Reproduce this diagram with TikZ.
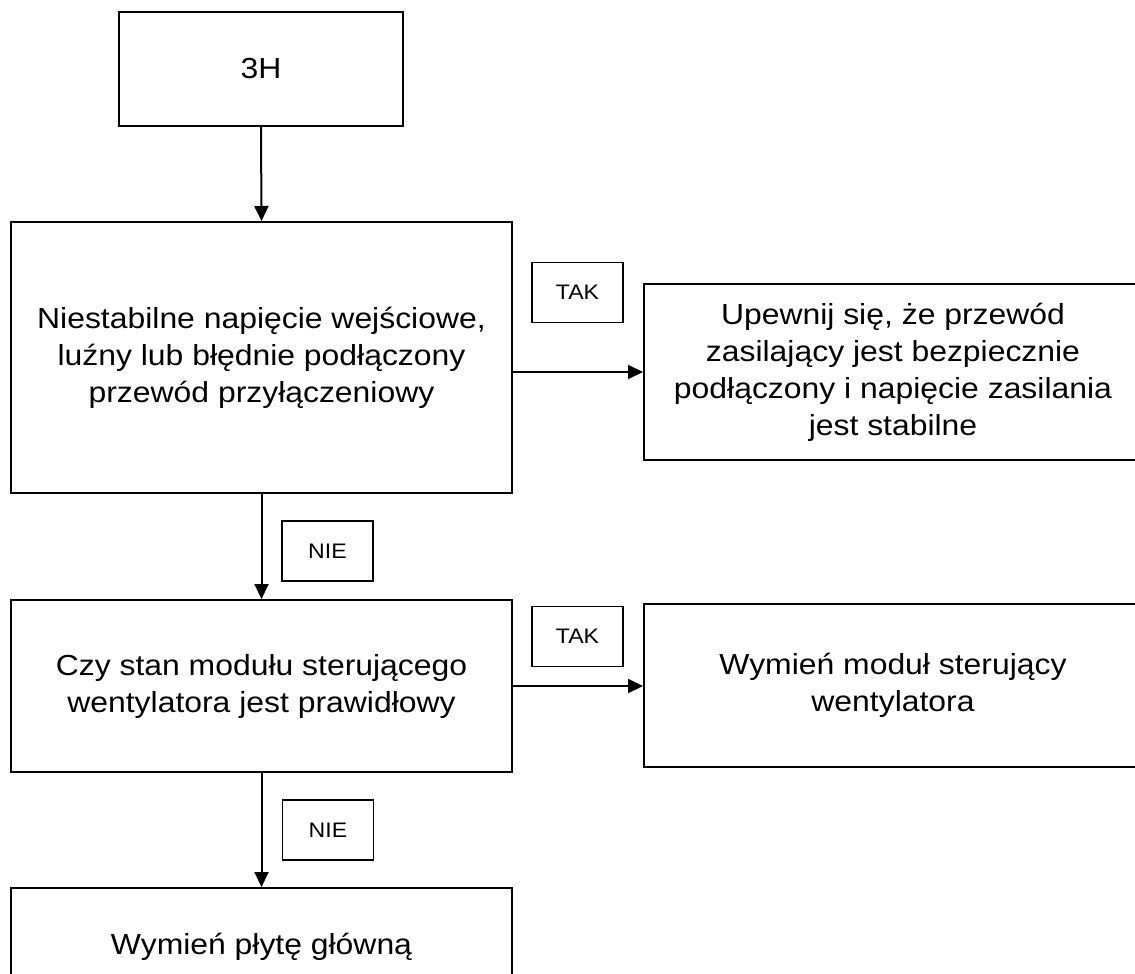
\documentclass[tikz,border=0pt]{standalone}
\usepackage{fontspec}
\setmainfont[FakeStretch=1.1]{Liberation Sans}
\usetikzlibrary{arrows.meta, positioning}

\begin{document}
\begin{tikzpicture}[x=0.5pt, y=-0.5pt,
        box/.style={draw, line width=1pt, inner sep=0pt, align=center,
            font=\fontsize{14.5}{18.5}\selectfont},
        tag/.style={draw, line width=0.8pt, inner sep=0pt,
            minimum width=45.5pt, minimum height=30pt,
            font=\fontsize{10.5}{12}\selectfont},
        flow/.style={line width=1pt, -{Triangle[length=7.5pt, width=7pt]}}]
    \useasboundingbox (0,0) rectangle (1135,974);
    % Bloki schematu
    \node[box, minimum width=142pt, minimum height=57pt] (start) at (261,69) {3H};
    \node[box, minimum width=250.5pt, minimum height=135.5pt] (q1) at (261.5,357.5)
        {Niestabilne napięcie wejściowe,\\ luźny lub błędnie podłączony\\ przewód przyłączeniowy};
    \node[box, minimum width=249pt, minimum height=88pt] (a1) at (893,372)
        {Upewnij się, że przewód\\ zasilający jest bezpiecznie\\ podłączony i napięcie zasilania\\ jest stabilne};
    \node[box, minimum width=250.5pt, minimum height=86pt] (q2) at (261.5,686)
        {Czy stan modułu sterującego\\ wentylatora jest prawidłowy};
    \node[box, minimum width=249pt, minimum height=81.5pt] (a2) at (893,685.5)
        {Wymień moduł sterujący\\ wentylatora};
    \node[box, minimum width=250.5pt, minimum height=59pt] (a3) at (261.5,947)
        {Wymień płytę główną};
    % Etykiety TAK / NIE
    \node[tag] (tak1) at (577.5,292.5) {TAK};
    \node[tag] (nie1) at (327.5,551) {NIE};
    \node[tag] (tak2) at (577.5,636.5) {TAK};
    \node[tag] (nie2) at (328,830) {NIE};
    % Strzalki
    \draw[flow] (start.south) -- (q1.north);
    \draw[flow] (q1.east |- a1.west) -- (a1.west);
    \draw[flow] (q1.south) -- (q2.north);
    \draw[flow] (q2.east) -- (q2.east -| a2.west);
    \draw[flow] (q2.south) -- (a3.north);
\end{tikzpicture}
\end{document}
